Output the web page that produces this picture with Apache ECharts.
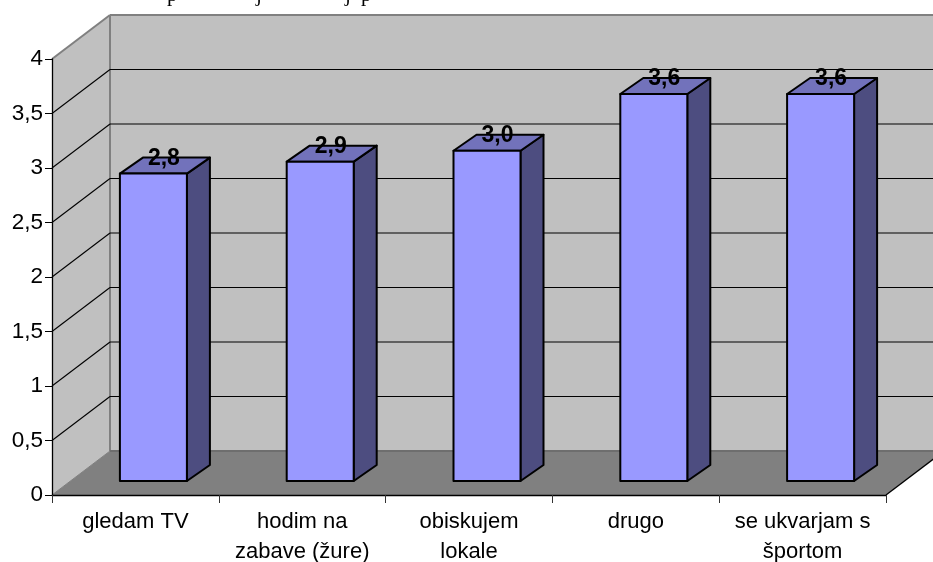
<!DOCTYPE html>
<html>
<head>
<meta charset="utf-8">
<style>
  html, body { margin: 0; padding: 0; background: #fff; overflow: hidden; }
  #chart { width: 933px; height: 562px; }
</style>
<script src="https://cdn.jsdelivr.net/npm/echarts@6/dist/echarts.min.js"></script>
</head>
<body>
<div id="chart"></div>
<script>
// Average answers per free-time activity
const categories = ['gledam TV', 'hodim na\nzabave (žure)', 'obiskujem\nlokale', 'drugo', 'se ukvarjam s\nšportom'];
const values = [2.82, 2.93, 3.03, 3.55, 3.55];
const yTicks = [0.5, 1, 1.5, 2, 2.5, 3, 3.5, 4];
const headingLetters = ['p', 'j', 'j', 'p'];
const headingLefts = [167, 256, 345, 361];

// Oblique projection of the plot box: how far the back wall sits from the front
const WALL_DX = 58, WALL_DY = -44;
// Bars stand a little behind the front edge of the floor
const BAR_DX = 18, BAR_DY = -14;
const BAR_WIDTH = 67, BAR_DEPTH_X = 23, BAR_DEPTH_Y = -16;

const WALL = '#c0c0c0', FLOOR = '#808080', EDGE = '#808080';
const BAR_FRONT = '#9999ff', BAR_TOP = '#7272bb', BAR_SIDE = '#4d4d80';

const fontFamily = '"Liberation Sans", Arial, sans-serif';

// One decimal with a decimal comma, rounding halves upward
function oneDecimal(v) {
  return (Math.round(v * 10) / 10).toFixed(1).replace('.', ',');
}

function renderShell(params, api) {
  const cs = params.coordSys;
  const x0 = cs.x, x1 = cs.x + cs.width;
  const yBase = api.coord([0, 0])[1];
  const yTop = api.coord([0, 4])[1];
  const bx0 = x0 + WALL_DX, bx1 = x1 + WALL_DX;
  const byBase = yBase + WALL_DY, byTop = yTop + WALL_DY;
  const edge = { stroke: EDGE, lineWidth: 2 };
  return {
    type: 'group',
    silent: true,
    children: [
      { type: 'rect', shape: { x: bx0, y: byTop, width: bx1 - bx0, height: byBase - byTop }, style: { fill: WALL } },
      { type: 'polygon', shape: { points: [[x0, yTop], [bx0, byTop], [bx0, byBase], [x0, yBase]] }, style: { fill: WALL } },
      { type: 'polygon', shape: { points: [[x0, yBase], [bx0, byBase], [bx1, byBase], [x1, yBase]] }, style: { fill: FLOOR } },
      { type: 'line', shape: { x1: x0, y1: yTop, x2: bx0, y2: byTop }, style: edge },
      { type: 'line', shape: { x1: bx0, y1: byTop, x2: bx1, y2: byTop }, style: edge },
      { type: 'line', shape: { x1: bx0, y1: byTop, x2: bx0, y2: byBase }, style: edge },
      { type: 'line', shape: { x1: bx0, y1: byBase, x2: bx1, y2: byBase }, style: { stroke: '#6e6e6e', lineWidth: 2 } },
      { type: 'line', shape: { x1: x0, y1: yBase, x2: bx0, y2: byBase }, style: { stroke: '#808080', lineWidth: 1 } },
      { type: 'line', shape: { x1: x1, y1: yBase, x2: bx1, y2: byBase }, style: { stroke: '#000', lineWidth: 1.3 } }
    ]
  };
}

function renderGridLine(params, api) {
  const v = api.value(0);
  if (v >= 4) return { type: 'group', children: [] };
  const cs = params.coordSys;
  const y = api.coord([0, v])[1];
  const x0 = cs.x, x1 = cs.x + cs.width;
  const bx0 = x0 + WALL_DX, by = y + WALL_DY;
  const style = { stroke: '#000', lineWidth: 1.1 };
  return {
    type: 'group',
    silent: true,
    children: [
      { type: 'line', shape: { x1: x0, y1: y, x2: bx0, y2: by }, style },
      { type: 'line', shape: { x1: bx0, y1: by, x2: x1 + WALL_DX, y2: by }, style }
    ]
  };
}

function renderBar(params, api) {
  const top = api.coord([api.value(0), api.value(1)]);
  const base = api.coord([api.value(0), 0]);
  const l = top[0] + BAR_DX - BAR_WIDTH / 2, r = l + BAR_WIDTH;
  const t = top[1] + BAR_DY, b = base[1] + BAR_DY;
  const dx = BAR_DEPTH_X, dy = BAR_DEPTH_Y;
  const stroke = { stroke: '#000', lineWidth: 2, lineJoin: 'round' };
  return {
    type: 'group',
    children: [
      { type: 'polygon', shape: { points: [[r, t], [r + dx, t + dy], [r + dx, b + dy], [r, b]] }, style: { fill: BAR_SIDE, ...stroke } },
      { type: 'polygon', shape: { points: [[l, t], [l + dx, t + dy], [r + dx, t + dy], [r, t]] }, style: { fill: BAR_TOP, ...stroke } },
      { type: 'rect', shape: { x: l, y: t, width: BAR_WIDTH, height: b - t }, style: { fill: BAR_FRONT, ...stroke } },
      {
        type: 'text',
        style: {
          x: (l + r) / 2 + 10.5, y: t - 15,
          text: oneDecimal(api.value(1)),
          fill: '#000', font: 'bold 23px ' + fontFamily,
          align: 'center', verticalAlign: 'middle'
        }
      }
    ]
  };
}

const chart = echarts.init(document.getElementById('chart'), null, { renderer: 'canvas' });
chart.setOption({
  animation: false,
  backgroundColor: '#fff',
  // Heading line above the plot, cut off by the top edge of the page
  graphic: headingLetters.map((text, i) => ({
    type: 'text',
    silent: true,
    x: headingLefts[i],
    y: -15,
    style: {
      text,
      fill: '#000',
      font: '21px "Liberation Serif", serif',
      verticalAlign: 'alphabetic'
    }
  })),
  grid: { left: 52, right: 47, top: 59, bottom: 67, outerBoundsMode: 'none' },
  xAxis: {
    type: 'category',
    data: categories,
    z: 3,
    axisLine: { lineStyle: { color: '#000', width: 1.3 } },
    axisTick: { show: true, alignWithLabel: false, length: 8, lineStyle: { color: '#333', width: 1 } },
    axisLabel: { interval: 0, margin: 12, color: '#000', fontFamily, fontSize: 22, lineHeight: 30 }
  },
  yAxis: {
    type: 'value',
    min: 0,
    max: 4,
    interval: 0.5,
    z: 3,
    axisLine: { show: true, lineStyle: { color: '#000', width: 1.3 } },
    axisTick: { show: true, length: 7, lineStyle: { color: '#000', width: 1 } },
    splitLine: { show: false },
    axisLabel: {
      margin: 9, color: '#000', fontFamily, fontSize: 22.5,
      padding: [4, 0, 0, 0],
      formatter: v => String(v).replace('.', ',')
    }
  },
  series: [
    { type: 'custom', z: 1, silent: true, renderItem: renderShell, data: [[0]], encode: { x: -1, y: -1 } },
    { type: 'custom', z: 2, silent: true, renderItem: renderGridLine, data: yTicks.map(v => [v]), encode: { x: -1, y: -1 } },
    {
      type: 'custom', z: 4, renderItem: renderBar,
      data: values.map((v, i) => [i, v]),
      encode: { x: 0, y: 1 }
    }
  ]
});
</script>
</body>
</html>
